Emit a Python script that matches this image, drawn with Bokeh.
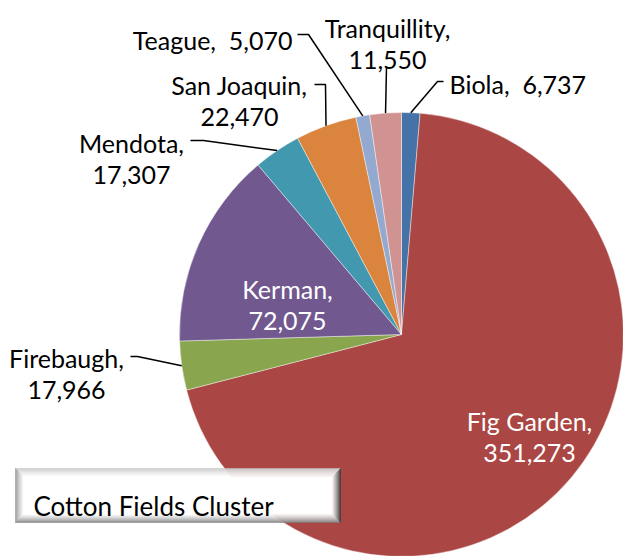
import numpy as np
from bokeh.plotting import figure
from bokeh.models import ColumnDataSource, Range1d
from bokeh.core.properties import value
from bokeh.embed import file_html
from bokeh.resources import INLINE

# ---------------- data ----------------
names = ["Biola", "Fig Garden", "Firebaugh", "Kerman", "Mendota",
         "San Joaquin", "Teague", "Tranquillity"]
values = [6737, 351273, 17966, 72075, 17307, 22470, 5070, 11550]
colors = ["#4572A7", "#AA4643", "#89A54E", "#71588F", "#4198AF",
          "#DB843D", "#93A9CF", "#D19392"]
title_text = "Cotton Fields Cluster"

# ---------------- layout (page pixel coordinates) ----------------
W, H = 623, 556
def X(px): return px
def Y(py): return H - py

CX, CY, R = 401, 334, 222
FONT = "Lato"
FS = "25px"

# label layout: kind, x, baseline(s), align, colour, leader (start, elbow)
layout = {
    "Teague":       ("one", 292, (39,), "right", "black", ((297, 34), (308, 34))),
    "Biola":        ("one", 449, (83,), "left", "black", ((443, 81), (437, 81))),
    "Tranquillity": ("two", 387, (27, 59), "center", "black", ((386, 66), (386, 66))),
    "San Joaquin":  ("two", 239, (84, 116), "center", "black", ((314, 84), (325, 84))),
    "Mendota":      ("two", 131, (142, 174), "center", "black", ((190, 140), (203, 140))),
    "Firebaugh":    ("two", 66, (357, 389), "center", "black", ((130, 356), (137, 356))),
    "Kerman":       ("two", 287, (288, 320), "center", "white", None),
    "Fig Garden":   ("two", 529, (420, 452), "center", "white", None),
}

p = figure(width=W, height=H, output_backend="svg", toolbar_location=None,
           x_range=Range1d(0, W), y_range=Range1d(0, H), min_border=0)
p.axis.visible = False
p.grid.visible = False
p.outline_line_color = None
p.background_fill_color = "white"
p.border_fill_color = "white"

vals = np.array(values, dtype=float)
frac = vals / vals.sum()
cum_after = np.cumsum(frac)
cum_before = cum_after - frac
start = np.pi / 2 - 2 * np.pi * cum_before
end = np.pi / 2 - 2 * np.pi * cum_after
mid = (start + end) / 2

src = ColumnDataSource(dict(start=start, end=end, color=colors))
p.wedge(x=X(CX), y=Y(CY), radius=R, start_angle="start", end_angle="end",
        direction="clock", fill_color="color", line_color="white",
        line_width=0.6, line_alpha=0.7, source=src)

# leader lines
lx, ly = [], []
for i, n in enumerate(names):
    lay = layout[n]
    if lay[5] is None:
        continue
    (sx, sy), (ex, ey) = lay[5]
    px = X(CX) + R * np.cos(mid[i])
    py = Y(CY) + R * np.sin(mid[i])
    lx.append([X(sx), X(ex), px])
    ly.append([Y(sy), Y(ey), py])
p.multi_line(xs=lx, ys=ly, line_color="black", line_width=1.5)

# labels
tx, ty, tt, ta, tc = [], [], [], [], []
for i, n in enumerate(names):
    kind, x, bases, align, col, _ = layout[n]
    if kind == "one":
        lines = [f"{n},\u00a0 {values[i]:,}"]
    else:
        lines = [f"{n},", f"{values[i]:,}"]
    for line, b in zip(lines, bases):
        tx.append(X(x)); ty.append(Y(b)); tt.append(line)
        ta.append(align); tc.append(col)
lsrc = ColumnDataSource(dict(x=tx, y=ty, text=tt, align=ta, color=tc))
p.text(x="x", y="y", text="text", text_align="align", text_baseline="alphabetic",
       text_color="color", text_font=value(FONT), text_font_size=FS, source=lsrc)

# bevelled title box
bx0, by0, bx1, by1 = 15, 468, 340, 522
edge_cols = {"top": (200, 200, 200), "left": (150, 150, 150),
             "right": (60, 60, 60), "bottom": (130, 130, 130)}
nb, bw = 8, 1.0
xs, ys, cs = [], [], []
def mix(c, t):
    return "#%02x%02x%02x" % tuple(int(round(v + (255 - v) * t)) for v in c)
for k in range(nb):
    d0, d1 = k * bw, (k + 1) * bw
    t = (k / nb) ** 0.8
    a0, a1 = (bx0 + d0, by0 + d0, bx1 - d0, by1 - d0), (bx0 + d1, by0 + d1, bx1 - d1, by1 - d1)
    xs.append([a0[0], a0[2], a1[2], a1[0]]); ys.append([a0[1], a0[1], a1[1], a1[1]]); cs.append(mix(edge_cols["top"], t))
    xs.append([a0[0], a0[2], a1[2], a1[0]]); ys.append([a0[3], a0[3], a1[3], a1[3]]); cs.append(mix(edge_cols["bottom"], t))
    xs.append([a0[0], a1[0], a1[0], a0[0]]); ys.append([a0[1], a1[1], a1[3], a0[3]]); cs.append(mix(edge_cols["left"], t))
    xs.append([a0[2], a1[2], a1[2], a0[2]]); ys.append([a0[1], a1[1], a1[3], a0[3]]); cs.append(mix(edge_cols["right"], t))
d = nb * bw
xs.append([bx0 + d, bx1 - d, bx1 - d, bx0 + d]); ys.append([by0 + d, by0 + d, by1 - d, by1 - d]); cs.append("#ffffff")
bsrc = ColumnDataSource(dict(xs=[[X(v) for v in a] for a in xs],
                             ys=[[Y(v) for v in a] for a in ys], c=cs))
p.patches(xs="xs", ys="ys", fill_color="c", line_color="c", line_width=0.5, source=bsrc)
p.text(x=[X(33)], y=[Y(505)], text=[title_text], text_align="left",
       text_baseline="alphabetic", text_color="black",
       text_font=value(FONT), text_font_size="26px")

open("out.html", "w").write(file_html(p, INLINE))
